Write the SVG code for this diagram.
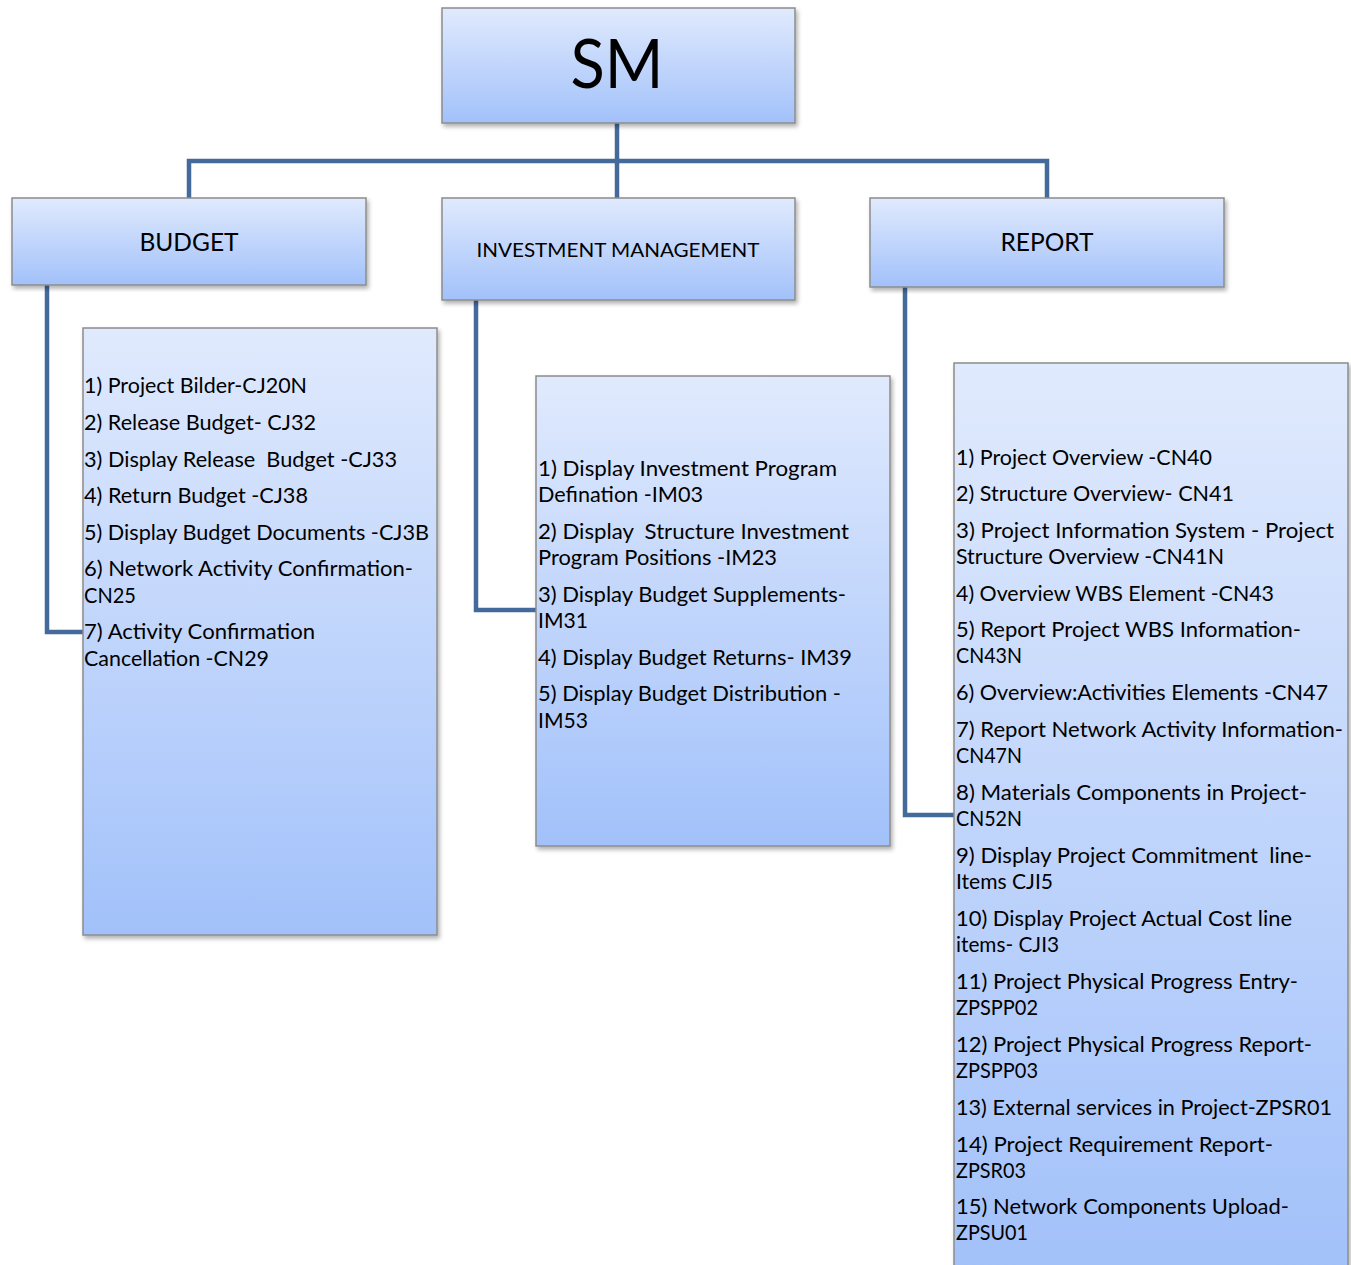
<svg xmlns="http://www.w3.org/2000/svg" width="1351" height="1265" viewBox="0 0 1351 1265">
<defs>
<linearGradient id="g" x1="0" y1="0" x2="0" y2="1">
<stop offset="0" stop-color="#e0eafd"/>
<stop offset="1" stop-color="#a2c1fa"/>
</linearGradient>
<filter id="sh" x="-5%" y="-5%" width="112%" height="112%">
<feDropShadow dx="2" dy="3" stdDeviation="2" flood-color="#000" flood-opacity="0.3"/>
</filter>
<style>
.box{fill:url(#g);stroke:#8c8c8c;stroke-width:1.5;filter:url(#sh)}
.con{fill:none;stroke:#44699b;stroke-width:4.5}
text{font-family:Lato,"Open Sans","Liberation Sans",sans-serif;fill:#000}
.h{text-anchor:middle}
.t{font-size:21px}
</style>
</defs>
<g id="connectors">
<path class="con" d="M617,123 V198"/>
<path class="con" d="M189,198 V161 H1047 V198"/>
<path class="con" d="M47,285 V632 H84"/>
<path class="con" d="M476,300 V610 H537"/>
<path class="con" d="M905,287 V815 H955"/>
</g>
<g id="sm">
<rect class="box" x="442" y="8" width="353" height="115"/>
<text class="h" x="617" y="88" font-size="68" textLength="93" lengthAdjust="spacingAndGlyphs">SM</text>
</g>
<g id="budget">
<rect class="box" x="12" y="198" width="354" height="87"/>
<text class="h" x="189" y="251" font-size="25" textLength="99" lengthAdjust="spacingAndGlyphs">BUDGET</text>
</g>
<g id="investment">
<rect class="box" x="442" y="198" width="353" height="102"/>
<text class="h" x="618" y="257" font-size="20" textLength="283" lengthAdjust="spacingAndGlyphs">INVESTMENT MANAGEMENT</text>
</g>
<g id="report">
<rect class="box" x="870" y="198" width="354" height="89"/>
<text class="h" x="1047" y="251" font-size="25" textLength="93" lengthAdjust="spacingAndGlyphs">REPORT</text>
</g>
<g id="budget-list">
<rect class="box" x="83" y="328" width="354" height="607"/>
<g class="t">
<text x="84" y="393" textLength="223" lengthAdjust="spacingAndGlyphs">1) Project Bilder-CJ20N</text>
<text x="84" y="430" textLength="232" lengthAdjust="spacingAndGlyphs">2) Release Budget- CJ32</text>
<text x="84" y="467" textLength="313" lengthAdjust="spacingAndGlyphs" xml:space="preserve">3) Display Release  Budget -CJ33</text>
<text x="84" y="503" textLength="224" lengthAdjust="spacingAndGlyphs">4) Return Budget -CJ38</text>
<text x="84" y="540" textLength="345" lengthAdjust="spacingAndGlyphs">5) Display Budget Documents -CJ3B</text>
<text x="84" y="576" textLength="329" lengthAdjust="spacingAndGlyphs">6) Network Activity Confirmation-</text>
<text x="84" y="603" textLength="52" lengthAdjust="spacingAndGlyphs">CN25</text>
<text x="84" y="639" textLength="231" lengthAdjust="spacingAndGlyphs">7) Activity Confirmation</text>
<text x="84" y="666" textLength="185" lengthAdjust="spacingAndGlyphs">Cancellation -CN29</text>
</g>
</g>
<g id="investment-list">
<rect class="box" x="536" y="376" width="354" height="470"/>
<g class="t">
<text x="538" y="476" textLength="299" lengthAdjust="spacingAndGlyphs">1) Display Investment Program</text>
<text x="538" y="502" textLength="165" lengthAdjust="spacingAndGlyphs">Defination -IM03</text>
<text x="538" y="539" textLength="311" lengthAdjust="spacingAndGlyphs" xml:space="preserve">2) Display  Structure Investment</text>
<text x="538" y="565" textLength="239" lengthAdjust="spacingAndGlyphs">Program Positions -IM23</text>
<text x="538" y="602" textLength="308" lengthAdjust="spacingAndGlyphs">3) Display Budget Supplements-</text>
<text x="538" y="628" textLength="50" lengthAdjust="spacingAndGlyphs">IM31</text>
<text x="538" y="665" textLength="314" lengthAdjust="spacingAndGlyphs">4) Display Budget Returns- IM39</text>
<text x="538" y="701" textLength="303" lengthAdjust="spacingAndGlyphs">5) Display Budget Distribution -</text>
<text x="538" y="728" textLength="50" lengthAdjust="spacingAndGlyphs">IM53</text>
</g>
</g>
<g id="report-list">
<rect class="box" x="954" y="363" width="394" height="910"/>
<g class="t">
<text x="956" y="465" textLength="256" lengthAdjust="spacingAndGlyphs">1) Project Overview -CN40</text>
<text x="956" y="501" textLength="278" lengthAdjust="spacingAndGlyphs">2) Structure Overview- CN41</text>
<text x="956" y="538" textLength="378" lengthAdjust="spacingAndGlyphs">3) Project Information System - Project</text>
<text x="956" y="564" textLength="268" lengthAdjust="spacingAndGlyphs">Structure Overview -CN41N</text>
<text x="956" y="601" textLength="318" lengthAdjust="spacingAndGlyphs">4) Overview WBS Element -CN43</text>
<text x="956" y="637" textLength="345" lengthAdjust="spacingAndGlyphs">5) Report Project WBS Information-</text>
<text x="956" y="663" textLength="66" lengthAdjust="spacingAndGlyphs">CN43N</text>
<text x="956" y="700" textLength="372" lengthAdjust="spacingAndGlyphs">6) Overview:Activities Elements -CN47</text>
<text x="956" y="737" textLength="387" lengthAdjust="spacingAndGlyphs">7) Report Network Activity Information-</text>
<text x="956" y="763" textLength="66" lengthAdjust="spacingAndGlyphs">CN47N</text>
<text x="956" y="800" textLength="351" lengthAdjust="spacingAndGlyphs">8) Materials Components in Project-</text>
<text x="956" y="826" textLength="66" lengthAdjust="spacingAndGlyphs">CN52N</text>
<text x="956" y="863" textLength="356" lengthAdjust="spacingAndGlyphs" xml:space="preserve">9) Display Project Commitment  line-</text>
<text x="956" y="889" textLength="97" lengthAdjust="spacingAndGlyphs">Items CJI5</text>
<text x="956" y="926" textLength="336" lengthAdjust="spacingAndGlyphs">10) Display Project Actual Cost line</text>
<text x="956" y="952" textLength="103" lengthAdjust="spacingAndGlyphs">items- CJI3</text>
<text x="956" y="989" textLength="342" lengthAdjust="spacingAndGlyphs">11) Project Physical Progress Entry-</text>
<text x="956" y="1015" textLength="82" lengthAdjust="spacingAndGlyphs">ZPSPP02</text>
<text x="956" y="1052" textLength="356" lengthAdjust="spacingAndGlyphs">12) Project Physical Progress Report-</text>
<text x="956" y="1078" textLength="82" lengthAdjust="spacingAndGlyphs">ZPSPP03</text>
<text x="956" y="1115" textLength="376" lengthAdjust="spacingAndGlyphs">13) External services in Project-ZPSR01</text>
<text x="956" y="1152" textLength="317" lengthAdjust="spacingAndGlyphs">14) Project Requirement Report-</text>
<text x="956" y="1178" textLength="70" lengthAdjust="spacingAndGlyphs">ZPSR03</text>
<text x="956" y="1214" textLength="333" lengthAdjust="spacingAndGlyphs">15) Network Components Upload-</text>
<text x="956" y="1240" textLength="72" lengthAdjust="spacingAndGlyphs">ZPSU01</text>
</g>
</g>
</svg>
